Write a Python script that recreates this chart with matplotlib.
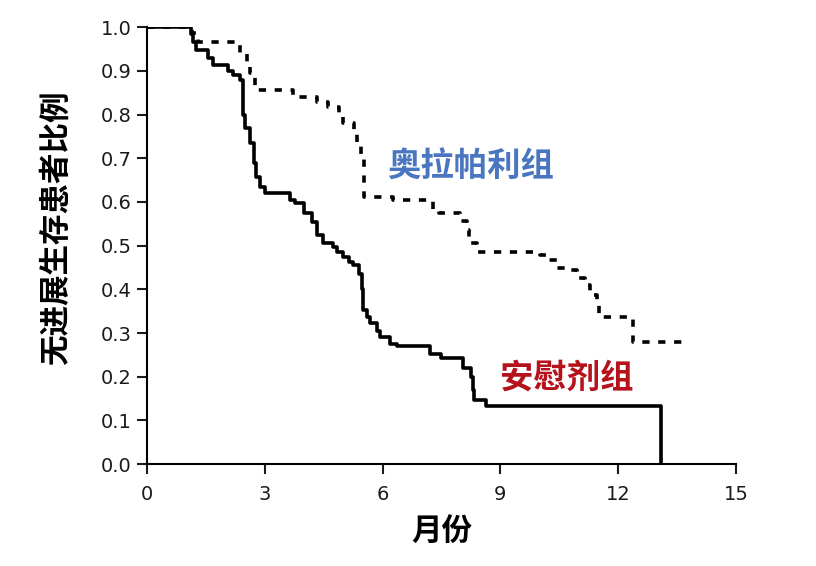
import matplotlib
matplotlib.use("Agg")
import matplotlib.pyplot as plt

plt.rcParams['font.family'] = ['DejaVu Sans', 'Noto Sans CJK SC']

# placebo group (solid)
placebo_t = [0, 1.12, 1.18, 1.25, 1.56, 1.69, 2.07, 2.2, 2.37, 2.45, 2.5, 2.62, 2.72, 2.78,
             2.88, 3.0, 3.64, 3.78, 4.0, 4.2, 4.33, 4.48, 4.74, 4.85, 4.99, 5.15, 5.25,
             5.4, 5.47, 5.5, 5.6, 5.68, 5.85, 5.93, 6.19, 6.37, 7.21, 7.5, 8.05, 8.25,
             8.3, 8.33, 8.63, 13.1]
placebo_s = [1.0, 0.985, 0.965, 0.947, 0.93, 0.913, 0.9, 0.89, 0.88, 0.80, 0.77, 0.734, 0.69,
             0.657, 0.635, 0.62, 0.605, 0.597, 0.574, 0.554, 0.524, 0.505, 0.497, 0.485,
             0.474, 0.462, 0.455, 0.436, 0.40, 0.352, 0.336, 0.322, 0.305, 0.291, 0.276,
             0.27, 0.253, 0.242, 0.22, 0.20, 0.17, 0.146, 0.133, 0.0]

# olaparib group (dashed)
olap_t = [0, 1.15, 1.3, 2.37, 2.55, 2.62, 2.75, 2.83, 3.72, 4.33, 4.6, 4.9, 5.0, 5.28,
          5.35, 5.45, 5.52, 6.27, 7.29, 7.45, 7.97, 8.15, 8.2, 8.4, 10.0, 10.18, 10.43,
          10.77, 10.94, 11.15, 11.28, 11.45, 11.5, 12.38, 13.75]
olap_s = [1.0, 0.986, 0.966, 0.94, 0.92, 0.895, 0.86, 0.856, 0.84, 0.829, 0.817, 0.796,
          0.78, 0.762, 0.732, 0.70, 0.612, 0.604, 0.585, 0.574, 0.556, 0.535, 0.505,
          0.486, 0.478, 0.467, 0.448, 0.444, 0.425, 0.41, 0.387, 0.364, 0.337, 0.28, 0.28]

x_ticks = [0, 3, 6, 9, 12, 15]
y_ticks = [0.0, 0.1, 0.2, 0.3, 0.4, 0.5, 0.6, 0.7, 0.8, 0.9, 1.0]

fig = plt.figure(figsize=(8.16, 5.66), dpi=100)
ax = fig.add_axes([0.180, 0.180, 0.722, 0.772])

ax.step(olap_t, olap_s, where="post", color="black", linewidth=2.6,
        linestyle=(0, (2.0, 2.4)))
ax.step(placebo_t, placebo_s, where="post", color="black", linewidth=2.6)

ax.set_xlim(0, 15)
ax.set_ylim(0, 1.0)
ax.set_xticks(x_ticks)
ax.set_yticks(y_ticks)
ax.set_xticklabels([str(v) for v in x_ticks])
ax.set_yticklabels(["%.1f" % v for v in y_ticks])

for side in ["top", "right"]:
    ax.spines[side].set_visible(False)
for side in ["left", "bottom"]:
    ax.spines[side].set_linewidth(1.5)
ax.tick_params(direction="out", length=7, width=1.5, labelsize=14, colors="#1a1a1a")
ax.tick_params(axis="x", pad=8)
ax.tick_params(axis="y", pad=4)

ax.set_ylabel("无进展生存患者比例", family=["Noto Sans CJK SC"], fontweight="bold",
              fontsize=22)
ax.yaxis.set_label_coords(-0.128, 0.54)
ax.set_xlabel("月份", family=["Noto Sans CJK SC"], fontweight="bold",
              fontsize=22, labelpad=8)

ax.text(8.23, 0.68, "奥拉帕利组", family=["Noto Sans CJK SC"], fontweight="bold",
        fontsize=24, color="#4a76c1", ha="center", va="center")
ax.text(10.7, 0.197, "安慰剂组", family=["Noto Sans CJK SC"], fontweight="bold",
        fontsize=24, color="#b5121b", ha="center", va="center")

fig.savefig("out.png", dpi=100)
